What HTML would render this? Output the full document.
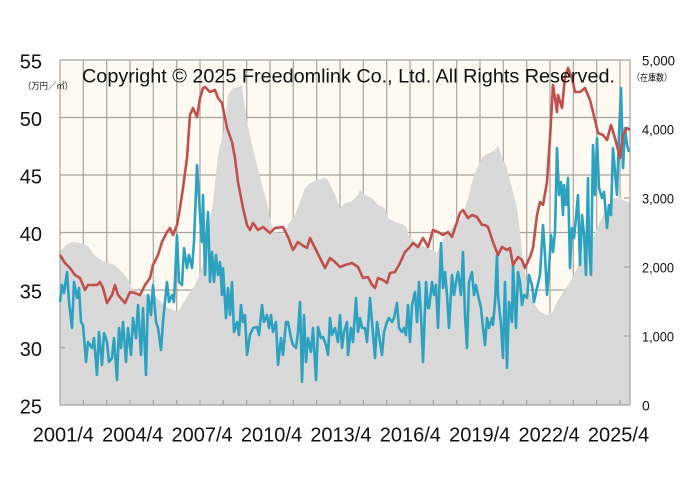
<!DOCTYPE html>
<html><head><meta charset="utf-8"><style>
html,body{margin:0;padding:0;background:#fff;}
svg{display:block;}
text{font-family:"Liberation Sans","Noto Sans CJK JP",sans-serif;fill:#111;}
</style></head><body>
<svg width="700" height="495" viewBox="0 0 700 495" xmlns="http://www.w3.org/2000/svg">
<rect x="0" y="0" width="700" height="495" fill="#fff"/>
<rect x="60" y="60" width="570" height="345" fill="#FEFAF2"/>
<g stroke="#A8A39D" stroke-width="1.2" fill="none">
<line x1="60" y1="60" x2="630" y2="60"/>
<line x1="60" y1="117.5" x2="630" y2="117.5"/>
<line x1="60" y1="175" x2="630" y2="175"/>
<line x1="60" y1="232.5" x2="630" y2="232.5"/>
<line x1="60" y1="290" x2="630" y2="290"/>
<line x1="60" y1="347.5" x2="630" y2="347.5"/>
<line x1="83.3" y1="60" x2="83.3" y2="405"/><line x1="106.7" y1="60" x2="106.7" y2="405"/><line x1="130" y1="60" x2="130" y2="405"/><line x1="153.3" y1="60" x2="153.3" y2="405"/><line x1="176.7" y1="60" x2="176.7" y2="405"/><line x1="200" y1="60" x2="200" y2="405"/><line x1="223.3" y1="60" x2="223.3" y2="405"/><line x1="246.7" y1="60" x2="246.7" y2="405"/><line x1="270" y1="60" x2="270" y2="405"/><line x1="293.3" y1="60" x2="293.3" y2="405"/><line x1="316.7" y1="60" x2="316.7" y2="405"/><line x1="340" y1="60" x2="340" y2="405"/><line x1="363.3" y1="60" x2="363.3" y2="405"/><line x1="386.7" y1="60" x2="386.7" y2="405"/><line x1="410" y1="60" x2="410" y2="405"/><line x1="433.3" y1="60" x2="433.3" y2="405"/><line x1="456.7" y1="60" x2="456.7" y2="405"/><line x1="480" y1="60" x2="480" y2="405"/><line x1="503.3" y1="60" x2="503.3" y2="405"/><line x1="526.7" y1="60" x2="526.7" y2="405"/><line x1="550" y1="60" x2="550" y2="405"/><line x1="573.3" y1="60" x2="573.3" y2="405"/><line x1="596.7" y1="60" x2="596.7" y2="405"/><line x1="620" y1="60" x2="620" y2="405"/>
</g>
<polygon fill="#D9D9D9" points="60,405 60,252 66,245 72,242 80,243 88,246 95,256 105,262 115,265 122,272 127,278 132,288 138,293 148,295 155,296 162,303 168,308 178,312 182,305 188,295 195,285 202,268 208,232 213,202 218,155 225,125 228,95 233,88 238,87 242,85 243,95 247,122 252,145 257,165 262,185 267,202 270,218 273,232 280,233 285,235 288,225 295,215 300,202 305,188 310,183 318,180 325,178 328,180 335,195 340,208 345,203 352,201 358,195 360,190 365,195 372,198 378,205 385,208 388,218 395,222 402,224 407,228 408,235 415,242 425,247 432,250 437,253 442,242 448,232 455,225 462,218 467,202 472,182 477,168 482,158 485,155 490,153 497,148 498,145 502,158 507,168 512,188 517,208 520,232 523,262 528,288 533,302 540,312 547,315 552,313 557,302 563,292 570,282 577,268 583,255 590,245 597,228 603,215 608,205 613,198 620,198 627,202 630,202 630,405"/>
<g stroke="#A8A39D" stroke-width="1.2" fill="none">
<line x1="60" y1="60" x2="60" y2="405"/>
<line x1="630" y1="60" x2="630" y2="405"/>
<line x1="60" y1="405" x2="630" y2="405"/>
<path d="M83.3 405V400M106.7 405V400M130 405V400M153.3 405V400M176.7 405V400M200 405V400M223.3 405V400M246.7 405V400M270 405V400M293.3 405V400M316.7 405V400M340 405V400M363.3 405V400M386.7 405V400M410 405V400M433.3 405V400M456.7 405V400M480 405V400M503.3 405V400M526.7 405V400M550 405V400M573.3 405V400M596.7 405V400M620 405V400"/>
<path d="M624 336H630M624 267H630M624 198H630M624 129H630M60 347.5H65M60 290H65"/>
</g>
<polyline fill="none" stroke="#2CA2C0" stroke-width="2.6" stroke-linejoin="round" points="60,302 62,285 64,293 67,272 69,302 72,328 74,282 77,298 79,288 81,322 83,325 86,362 88,342 92,348 94,338 97,375 99,332 102,365 104,333 107,342 109,362 112,358 114,338 117,380 119,328 121,348 123,322 126,362 128,328 131,355 133,318 136,338 138,305 141,355 143,308 146,375 148,295 151,315 153,285 156,322 158,328 161,350 163,322 167,282 169,302 172,295 174,302 177,235 179,282 182,285 184,248 187,268 189,255 192,268 194,242 197,165 200,215 202,242 203,195 205,275 207,228 208,212 210,282 212,252 214,282 216,255 218,275 220,262 222,295 223,268 226,318 228,288 230,315 232,282 234,332 237,322 239,335 241,305 243,322 245,315 247,355 250,335 253,328 257,327 259,335 262,305 264,322 267,315 269,328 271,315 273,332 276,322 278,365 281,338 283,355 286,322 288,322 291,338 293,345 296,348 298,332 300,302 302,382 304,315 306,362 308,338 311,352 313,328 316,380 318,327 321,338 323,337 326,345 328,355 330,318 332,335 335,328 338,342 340,315 342,348 344,332 347,322 348,355 351,328 353,342 356,298 358,332 360,318 362,328 365,328 367,342 370,298 372,322 375,358 377,322 380,342 382,355 384,332 387,322 389,318 392,322 394,318 397,303 399,328 402,332 404,328 406,335 408,305 410,342 412,305 415,292 417,322 419,282 421,315 423,362 426,282 428,308 429,308 432,282 434,295 436,285 438,328 441,243 443,288 445,272 447,295 449,328 452,275 454,295 456,282 458,272 461,295 463,252 465,315 467,348 469,282 472,272 474,295 476,285 478,295 481,308 483,328 485,345 487,318 489,328 492,318 493,325 495,302 497,255 498,295 501,325 503,358 505,282 507,368 509,302 512,322 513,265 516,328 518,272 520,282 522,305 524,295 527,298 529,275 532,285 534,302 537,288 540,275 543,225 545,255 547,295 549,268 551,235 553,252 555,232 557,148 559,195 561,182 563,215 564,185 566,205 568,178 570,268 572,228 574,238 576,218 578,195 580,265 582,215 584,235 586,275 588,178 589,242 591,275 593,145 595,195 597,138 599,188 602,198 604,192 607,228 609,205 611,215 613,148 615,172 617,195 619,135 621,88 623,168 625,128 627,145 629,152"/>
<polyline fill="none" stroke="#C0504D" stroke-width="2.6" stroke-linejoin="round" points="60,255 65,263 70,268 75,275 80,278 85,290 88,285 97,285 100,282 103,288 107,303 112,295 115,285 118,295 125,303 130,292 135,293 140,295 145,285 150,278 153,265 158,255 162,242 167,232 170,228 173,235 177,225 180,208 183,188 187,158 190,115 193,108 197,117 200,98 203,88 205,87 210,92 215,90 218,98 222,103 227,128 232,142 235,158 238,182 243,208 247,225 250,230 253,223 258,230 263,227 270,233 275,228 283,227 288,237 293,250 298,242 302,245 307,248 310,238 315,248 320,258 325,268 330,258 335,262 340,267 345,265 352,263 358,267 363,278 368,277 372,285 375,288 378,278 383,280 387,283 390,273 395,272 400,263 405,252 410,247 413,243 418,247 423,238 428,247 433,230 438,232 443,235 448,232 452,237 455,228 460,213 463,210 468,218 472,215 477,217 482,225 485,225 488,227 493,242 498,255 502,247 507,250 510,248 513,265 518,257 522,260 525,268 530,257 533,248 537,215 540,202 543,205 547,182 550,138 553,85 557,112 558,95 562,108 565,77 568,68 572,78 575,92 580,92 585,88 590,100 595,120 598,133 603,135 607,140 611,125 615,138 620,158 623,135 627,128 630,130"/>
<text x="82" y="82.5" font-size="19.5" textLength="533" lengthAdjust="spacingAndGlyphs">Copyright © 2025 Freedomlink Co., Ltd. All Rights Reserved.</text>
<g font-size="20" text-anchor="end">
<text x="42" y="68.5">55</text>
<text x="42" y="126">50</text>
<text x="42" y="183.5">45</text>
<text x="42" y="241">40</text>
<text x="42" y="298.5">35</text>
<text x="42" y="356">30</text>
<text x="42" y="413.5">25</text>
</g>
<text x="23" y="89" font-size="9" textLength="50" lengthAdjust="spacingAndGlyphs">（万円／㎡）</text>
<text x="632" y="81" font-size="9.5" textLength="40" lengthAdjust="spacingAndGlyphs">（在庫数）</text>
<g font-size="14">
<text x="642" y="65.5" textLength="33" lengthAdjust="spacingAndGlyphs">5,000</text>
<text x="642" y="134.5" textLength="32" lengthAdjust="spacingAndGlyphs">4,000</text>
<text x="642" y="203.5" textLength="32" lengthAdjust="spacingAndGlyphs">3,000</text>
<text x="642" y="272.5" textLength="32" lengthAdjust="spacingAndGlyphs">2,000</text>
<text x="642" y="341.5" textLength="32" lengthAdjust="spacingAndGlyphs">1,000</text>
<text x="642" y="410.5">0</text>
</g>
<g font-size="20" text-anchor="middle">
<text x="63.3" y="441.5">2001/4</text>
<text x="132.7" y="441.5">2004/4</text>
<text x="202.1" y="441.5">2007/4</text>
<text x="271.5" y="441.5">2010/4</text>
<text x="340.9" y="441.5">2013/4</text>
<text x="410.3" y="441.5">2016/4</text>
<text x="479.7" y="441.5">2019/4</text>
<text x="549.1" y="441.5">2022/4</text>
<text x="618.5" y="441.5">2025/4</text>
</g>
</svg>
</body></html>
